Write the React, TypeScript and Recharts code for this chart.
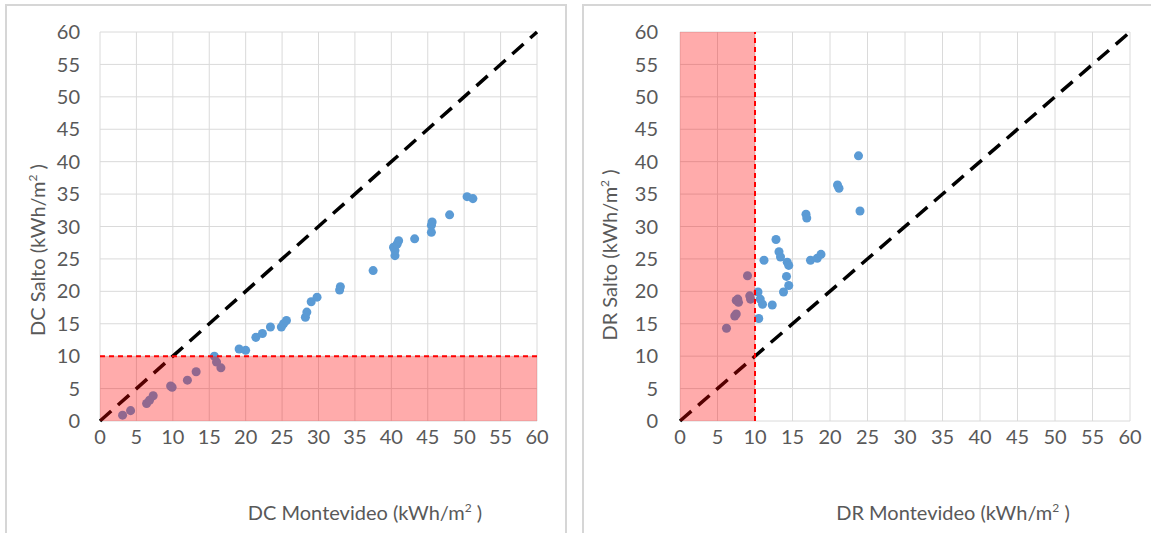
import React from 'react';
import { ScatterChart, Scatter, XAxis, YAxis, ZAxis, CartesianGrid, ReferenceLine, ReferenceArea } from 'recharts';

const axisTicks = [0, 5, 10, 15, 20, 25, 30, 35, 40, 45, 50, 55, 60];

const dcMontevideo = [3.1, 4.2, 6.4, 6.8, 7.3, 9.7, 9.9, 12.0, 13.2, 15.7, 16.0, 16.6, 19.1, 20.0, 21.4, 22.3, 23.4, 24.9, 25.2, 25.6, 28.2, 28.4, 29.0, 29.8, 33.0, 32.9, 37.5, 40.5, 40.5, 40.3, 40.8, 41.0, 43.2, 45.5, 45.5, 45.6, 48.0, 50.4, 51.2];
const dcSalto = [0.9, 1.6, 2.7, 3.2, 3.9, 5.4, 5.2, 6.3, 7.6, 10.0, 9.1, 8.2, 11.1, 10.9, 12.9, 13.5, 14.5, 14.5, 15.0, 15.5, 16.0, 16.8, 18.4, 19.1, 20.7, 20.2, 23.2, 25.5, 26.3, 26.8, 27.3, 27.8, 28.1, 29.1, 30.2, 30.7, 31.8, 34.6, 34.3];

const drMontevideo = [6.2, 7.3, 7.5, 7.5, 7.7, 7.8, 9.0, 9.4, 9.3, 10.4, 10.7, 11.0, 10.5, 12.3, 11.2, 12.8, 13.2, 13.4, 14.3, 14.5, 14.2, 14.5, 13.8, 17.4, 18.3, 18.8, 16.8, 16.9, 21.0, 21.2, 23.8, 24.0];
const drSalto = [14.3, 16.2, 16.5, 18.6, 18.8, 18.3, 22.4, 18.8, 19.3, 19.9, 18.8, 18.0, 15.8, 17.9, 24.8, 28.0, 26.1, 25.3, 24.5, 24.0, 22.3, 20.9, 19.9, 24.8, 25.1, 25.7, 31.9, 31.3, 36.4, 35.9, 40.9, 32.4];

const dcData = dcMontevideo.map((x, i) => ({ x, y: dcSalto[i] }));
const drData = drMontevideo.map((x, i) => ({ x, y: drSalto[i] }));

const FONT = 'Lato, "Open Sans", sans-serif';
const TXT = '#595959';
const tickStyle = { fill: TXT, fontSize: 20, fontFamily: FONT };

type PanelProps = {
  data: { x: number; y: number }[];
  left: number;
  width: number;
  margin: { top: number; right: number; bottom: number; left: number };
  kind: 'dc' | 'dr';
};

function Panel({ data, left, width, margin, kind }: PanelProps) {
  return (
    <div style={{ position: 'absolute', left, top: 0, width, height: 533 }}>
      <ScatterChart width={width} height={533} margin={margin}>
        <CartesianGrid stroke="#dadada" strokeWidth={1} />
        <XAxis
          type="number"
          dataKey="x"
          domain={[0, 60]}
          ticks={axisTicks}
          interval={0}
          axisLine={false}
          tickLine={false}
          tickSize={0}
          tickMargin={9}
          height={30}
          tick={tickStyle}
          allowDataOverflow
        />
        <YAxis
          type="number"
          dataKey="y"
          domain={[0, 60]}
          ticks={axisTicks}
          interval={0}
          axisLine={false}
          tickLine={false}
          tickSize={0}
          tickMargin={kind === 'dc' ? 20 : 22}
          width={60}
          tick={tickStyle}
          allowDataOverflow
        />
        <ZAxis range={[90, 90]} />
        <ReferenceLine
          segment={[{ x: 0, y: 0 }, { x: 60, y: 60 }]}
          stroke="#000000"
          strokeWidth={3.5}
          strokeDasharray="15 9"
        />
        <Scatter data={data} fill="#5B9BD5" shape="circle" isAnimationActive={false} />
        {kind === 'dc' ? (
          <ReferenceArea x1={0} x2={60} y1={0} y2={10} fill="#ff0000" fillOpacity={0.33} stroke="none" zIndex={1000} />
        ) : (
          <ReferenceArea x1={0} x2={10} y1={0} y2={60} fill="#ff0000" fillOpacity={0.33} stroke="none" zIndex={1000} />
        )}
        {kind === 'dc' ? (
          <ReferenceLine y={10} stroke="#ff0000" strokeWidth={2} strokeDasharray="5 4" zIndex={1001} />
        ) : (
          <ReferenceLine x={10} stroke="#ff0000" strokeWidth={2} strokeDasharray="5 4" zIndex={1001} />
        )}
      </ScatterChart>
    </div>
  );
}

function YTitle({ x, y, label }: { x: number; y: number; label: string }) {
  return (
    <div
      style={{
        position: 'absolute',
        left: x,
        top: y,
        transform: 'translate(-50%, -50%) rotate(-90deg)',
        whiteSpace: 'nowrap',
        fontFamily: FONT,
        fontSize: 20,
        color: TXT,
      }}
    >
      {label} (kWh/m<sup style={{ fontSize: 12 }}>2</sup> )
    </div>
  );
}

function XTitle({ x, y, label }: { x: number; y: number; label: string }) {
  return (
    <div
      style={{
        position: 'absolute',
        left: x,
        top: y,
        transform: 'translate(-50%, -50%)',
        whiteSpace: 'nowrap',
        fontFamily: FONT,
        fontSize: 20,
        color: TXT,
      }}
    >
      {label} (kWh/m<sup style={{ fontSize: 12 }}>2</sup> )
    </div>
  );
}

export default function App() {
  return (
    <div style={{ position: 'fixed', left: 0, top: 0, width: 1151, height: 533, background: '#ffffff', overflow: 'hidden' }}>
      <div style={{ position: 'absolute', left: 5, top: 4, width: 558, height: 540, border: '2px solid #d6d6d6' }} />
      <div style={{ position: 'absolute', left: 582, top: 4, width: 600, height: 540, border: '2px solid #d6d6d6' }} />
      <Panel data={dcData} left={0} width={566} kind="dc" margin={{ top: 32, right: 29, bottom: 82, left: 40 }} />
      <Panel data={drData} left={583} width={568} kind="dr" margin={{ top: 32, right: 21, bottom: 82, left: 37 }} />
      <YTitle x={37} y={250} label="DC Salto" />
      <YTitle x={609} y={255} label="DR Salto" />
      <XTitle x={365} y={512} label="DC Montevideo" />
      <XTitle x={953} y={512} label="DR Montevideo" />
    </div>
  );
}
